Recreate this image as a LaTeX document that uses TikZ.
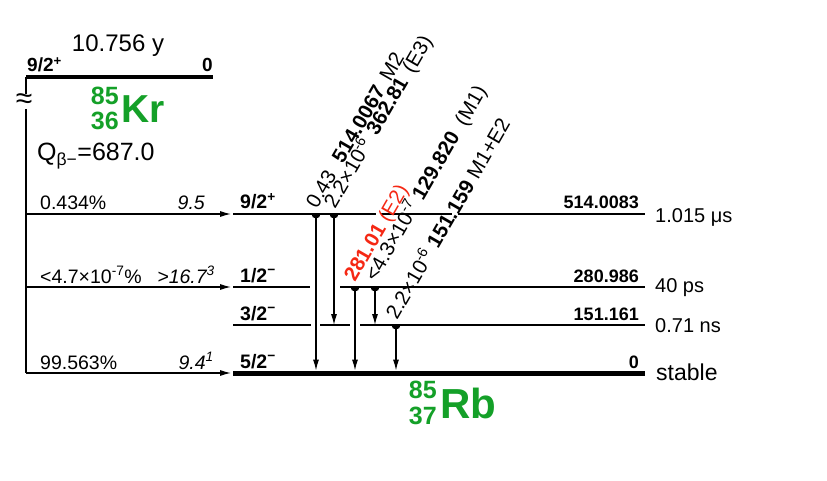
\documentclass[tikz,border=0pt]{standalone}
\usepackage{fontspec}
\setmainfont{Liberation Sans}
\usetikzlibrary{arrows.meta}
\definecolor{nucgreen}{RGB}{20,160,40}
\definecolor{gamred}{RGB}{245,40,20}
\newcommand\setpx[1]{\fontsize{#1}{#1}\selectfont}
\tikzset{
  lvl/.style={line width=1.3pt},
  gslvl/.style={line width=5pt},
  parlvl/.style={line width=4pt},
  feed/.style={line width=1.1pt,-{Latex[length=11pt,width=6pt]}},
  gam/.style={line width=1.1pt,-{Latex[length=11pt,width=6pt]}},
  txt/.style={inner sep=0pt,font=\setpx{18}},
  fdtxt/.style={inner sep=0pt,font=\setpx{19.5}},
  big/.style={inner sep=0pt,font=\setpx{24}},
  glab/.style={inner sep=0pt,font=\setpx{20.5},rotate=60,anchor=base west},
  nuc/.style={inner sep=0pt,text=nucgreen},
}
\begin{document}
\begin{tikzpicture}[x=1pt,y=-1pt]
\useasboundingbox (0,0) rectangle (827,481);
% ---------- parent ----------
\coordinate (pL) at (26,77);
\coordinate (pR) at (213,77);
\draw[parlvl] (pL) -- (pR);
\node[big,anchor=base] (phl) at (118,52) {10.756 y};
\node[txt,anchor=base west,font=\setpx{19}\bfseries] (pspin) at (27,72) {9/2\textsuperscript{+}};
\node[txt,anchor=base east,font=\setpx{19}\bfseries] (pen) at (213,72) {0};
\coordinate (vb1) at (26,94);
\coordinate (vb2) at (26,109);
\coordinate (vbot) at (26,373);
\draw[line width=1.1pt] (pL) -- (vb1);
\draw[line width=1.1pt] (vb2) -- (vbot);
\node[inner sep=0pt,font=\setpx{30}] (brk) at (24,101) {≈};
\node[nuc,anchor=base east,font=\setpx{25}\bfseries] (krA) at (119,105) {85};
\node[nuc,anchor=base east,font=\setpx{25}\bfseries] (krZ) at (119,130) {36};
\node[nuc,anchor=base west,font=\setpx{39}\bfseries] (kr) at (121,123) {Kr};
\node[big,anchor=base west,font=\setpx{25}] (q) at (37,161) {Q\textsubscript{β−}=687.0};
% ---------- feeding ----------
\coordinate (f1a) at (26,214); \coordinate (f1b) at (231,214);
\coordinate (f2a) at (26,287); \coordinate (f2b) at (231,287);
\coordinate (f3a) at (26,373); \coordinate (f3b) at (231,373);
\draw[feed] (f1a) -- (f1b);
\draw[feed] (f2a) -- (f2b);
\draw[feed] (f3a) -- (f3b);
\node[fdtxt,anchor=base west] (b1) at (40,210) {0.434\%};
\node[fdtxt,anchor=base east] (l1) at (205,210) {\itshape 9.5};
\node[fdtxt,anchor=base west] (b2) at (40,283) {<4.7×10\textsuperscript{-7}\%};
\node[fdtxt,anchor=base east] (l2) at (215,283) {\itshape >16.7\textsuperscript{3}};
\node[fdtxt,anchor=base west] (b3) at (40,369) {99.563\%};
\node[fdtxt,anchor=base east] (l3) at (214,369) {\itshape 9.4\textsuperscript{1}};
% ---------- daughter levels ----------
\draw[lvl] (233,214) -- (376,214);
\draw[lvl] (381,214) -- (452,214);
\draw[lvl] (458,214) -- (645,214);
\draw[lvl] (233,287) -- (310,287);
\draw[lvl] (340,287) -- (645,287);
\draw[lvl] (233,325) -- (311,325);
\draw[lvl] (320,325) -- (350,325);
\draw[lvl] (360,325) -- (645,325);
\draw[gslvl] (233,373) -- (645,373);
\node[txt,anchor=base west,font=\setpx{19.5}\bfseries] (s1) at (240,209) {9/2\textsuperscript{+}};
\node[txt,anchor=base west,font=\setpx{19.5}\bfseries] (s2) at (240,282) {1/2\textsuperscript{−}};
\node[txt,anchor=base west,font=\setpx{19.5}\bfseries] (s3) at (240,320) {3/2\textsuperscript{−}};
\node[txt,anchor=base west,font=\setpx{19.5}\bfseries] (s4) at (240,368) {5/2\textsuperscript{−}};
\node[txt,anchor=base east,font=\setpx{18}\bfseries] (e1) at (639,209) {514.0083};
\node[txt,anchor=base east,font=\setpx{18}\bfseries] (e2) at (639,282) {280.986};
\node[txt,anchor=base east,font=\setpx{18}\bfseries] (e3) at (639,320) {151.161};
\node[txt,anchor=base east,font=\setpx{18}\bfseries] (e4) at (639,368) {0};
\node[txt,anchor=west,font=\setpx{20}] (t1) at (655,217) {1.015 μs};
\node[txt,anchor=west,font=\setpx{20}] (t2) at (655,288) {40 ps};
\node[txt,anchor=west,font=\setpx{20}] (t3) at (655,326) {0.71 ns};
\node[txt,anchor=west,font=\setpx{23}] (t4) at (656,372) {stable};
\node[nuc,anchor=base east,font=\setpx{25}\bfseries] (rbA) at (437,398) {85};
\node[nuc,anchor=base east,font=\setpx{25}\bfseries] (rbZ) at (437,424) {37};
\node[nuc,anchor=base west,font=\setpx{42}\bfseries] (rb) at (440,418) {Rb};
% ---------- gammas ----------
\coordinate (g1a) at (316,214); \coordinate (g1b) at (316,370.5);
\coordinate (g2a) at (334,214); \coordinate (g2b) at (334,325);
\coordinate (g3a) at (355,287); \coordinate (g3b) at (355,370.5);
\coordinate (g4a) at (375,287); \coordinate (g4b) at (375,325);
\coordinate (g5a) at (396,325); \coordinate (g5b) at (396,370.5);
\foreach \g in {g1,g2,g3,g4,g5}{
  \draw[gam] (\g a) -- (\g b);
  \fill (\g a) ++(-4.5,0) arc[start angle=180,end angle=0,radius=4.5] -- cycle;
}
\node[glab] (gl1) at (317,210) {0.43\hspace{0.6em}\textbf{514.0067}\hspace{0.45em}M2};
\node[glab] (gl2) at (335,210) {2.2×10\textsuperscript{-6}\hspace{0.4em}\textbf{362.81}\hspace{0.45em}(E3)};
\node[glab,text=gamred] (gl3) at (355,283) {\textbf{281.01} (E2)};
\node[glab] (gl4) at (376,283) {<4.3×10\textsuperscript{-7} \textbf{129.820}\hspace{0.55em}(M1)};
\node[glab] (gl5) at (397,321) {2.2×10\textsuperscript{-6} \textbf{151.159} M1+E2};
\end{tikzpicture}
\end{document}
